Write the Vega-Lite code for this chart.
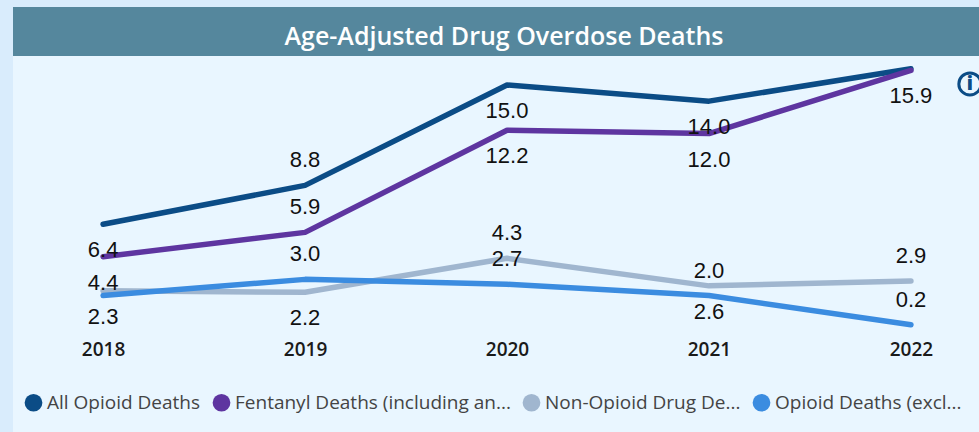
{
"$schema":"https://vega.github.io/schema/vega-lite/v6.json",
"autosize":"none",
"padding":{"left":13,"top":7,"right":0,"bottom":0},
"width":966,"height":425,
"background":"#D9ECFC",
"view":{"fill":"#E9F6FF","stroke":null},
"title":{"text":"Age-Adjusted Drug Overdose Deaths","anchor":"middle","dx":8,"offset":-43,"color":"#FFFFFF","font":"Open Sans","fontSize":25,"fontWeight":600},
"data":{"values":[
{"series":"All Opioid Deaths","year":2018,"value":6.4},
{"series":"All Opioid Deaths","year":2019,"value":8.8},
{"series":"All Opioid Deaths","year":2020,"value":15.0},
{"series":"All Opioid Deaths","year":2021,"value":14.0},
{"series":"All Opioid Deaths","year":2022,"value":16.0},
{"series":"Fentanyl Deaths (including an...","year":2018,"value":4.4},
{"series":"Fentanyl Deaths (including an...","year":2019,"value":5.9},
{"series":"Fentanyl Deaths (including an...","year":2020,"value":12.2},
{"series":"Fentanyl Deaths (including an...","year":2021,"value":12.0},
{"series":"Fentanyl Deaths (including an...","year":2022,"value":15.9},
{"series":"Non-Opioid Drug De...","year":2018,"value":2.3},
{"series":"Non-Opioid Drug De...","year":2019,"value":2.2},
{"series":"Non-Opioid Drug De...","year":2020,"value":4.3},
{"series":"Non-Opioid Drug De...","year":2021,"value":2.6},
{"series":"Non-Opioid Drug De...","year":2022,"value":2.9},
{"series":"Opioid Deaths (excl...","year":2018,"value":2.0},
{"series":"Opioid Deaths (excl...","year":2019,"value":3.0},
{"series":"Opioid Deaths (excl...","year":2020,"value":2.7},
{"series":"Opioid Deaths (excl...","year":2021,"value":2.0},
{"series":"Opioid Deaths (excl...","year":2022,"value":0.2}
]},
"layer":[
{"data":{"values":[{"part":"banner"}]},"mark":{"type":"rect","color":"#55879D"},
 "encoding":{"x":{"datum":2017.554,"type":"quantitative","title":null,"scale":{"domain":[2017.554,2022.337],"nice":false,"zero":false}},"x2":{"datum":2022.337},"y":{"datum":19.81,"type":"quantitative","title":null,"scale":{"domain":[-6.42,19.81],"nice":false,"zero":false},"axis":null},"y2":{"datum":16.79}}},
{"encoding":{
"x":{"field":"year","type":"quantitative","title":null,"scale":{"domain":[2017.554,2022.337],"nice":false,"zero":false},
"axis":{"values":[2018,2019,2020,2021,2022],"format":"d","domain":false,"ticks":false,"grid":false,"offset":-92,"labelPadding":0,"labelFont":"Open Sans","labelFontWeight":600,"labelFontSize":19,"labelColor":"#1A1A1A","labelBaseline":"top","labelFlush":false,"labelOverlap":false}},
"y":{"field":"value","type":"quantitative","title":null,"scale":{"domain":[-6.42,19.81],"nice":false,"zero":false},"axis":null}
},
"layer":[
{"mark":{"type":"line","strokeWidth":5.5,"strokeCap":"round","strokeJoin":"round","clip":false},
 "encoding":{"color":{"field":"series","type":"nominal","title":null,
  "scale":{"domain":["All Opioid Deaths","Fentanyl Deaths (including an...","Non-Opioid Drug De...","Opioid Deaths (excl..."],"range":["#0B4C86","#5E35A0","#A0B6CF","#3B8CE0"]},
  "legend":{"orient":"none","legendX":11,"legendY":386,"direction":"horizontal","columns":4,"symbolType":"circle","symbolSize":314,"symbolStrokeWidth":0,"labelFont":"Open Sans","labelFontSize":19,"labelColor":"#444444","labelOffset":4,"columnPadding":11,"labelLimit":400,"encode":{"symbols":{"update":{"fill":{"scale":"color","field":"value"}}}}}}}},
{"transform":[{"filter":"(datum.series=='All Opioid Deaths'&&datum.year==2019)||(datum.series=='Fentanyl Deaths (including an...'&&datum.year==2019)||(datum.series=='Non-Opioid Drug De...'&&(datum.year==2020||datum.year==2022))||(datum.series=='Opioid Deaths (excl...'&&datum.year>=2019)"}],
 "mark":{"type":"text","font":"Liberation Sans","fontSize":22,"color":"#111111","baseline":"middle","dy":-25},
 "encoding":{"text":{"field":"value","type":"quantitative","format":".1f"}}},
{"transform":[{"filter":"(datum.series=='All Opioid Deaths'&&(datum.year==2018||datum.year==2020||datum.year==2021))||(datum.series=='Fentanyl Deaths (including an...'&&datum.year!=2019)||(datum.series=='Non-Opioid Drug De...'&&(datum.year==2018||datum.year==2019||datum.year==2021))"}],
 "mark":{"type":"text","font":"Liberation Sans","fontSize":22,"color":"#111111","baseline":"middle","dy":26},
 "encoding":{"text":{"field":"value","type":"quantitative","format":".1f"}}}
]},
{"data":{"values":[{"part":"info icon"}]},"mark":{"type":"point","shape":"circle","filled":false,"size":490,"strokeWidth":3,"opacity":1,"color":"#0B4C86"},
 "encoding":{"x":{"datum":2022.292,"type":"quantitative"},"y":{"datum":15.06,"type":"quantitative"}}},
{"data":{"values":[{"part":"info icon"}]},"mark":{"type":"text","text":"i","font":"Open Sans","fontWeight":800,"fontSize":19,"color":"#0B4C86","baseline":"middle"},
 "encoding":{"x":{"datum":2022.292,"type":"quantitative"},"y":{"datum":15.06,"type":"quantitative"}}}
]
}
